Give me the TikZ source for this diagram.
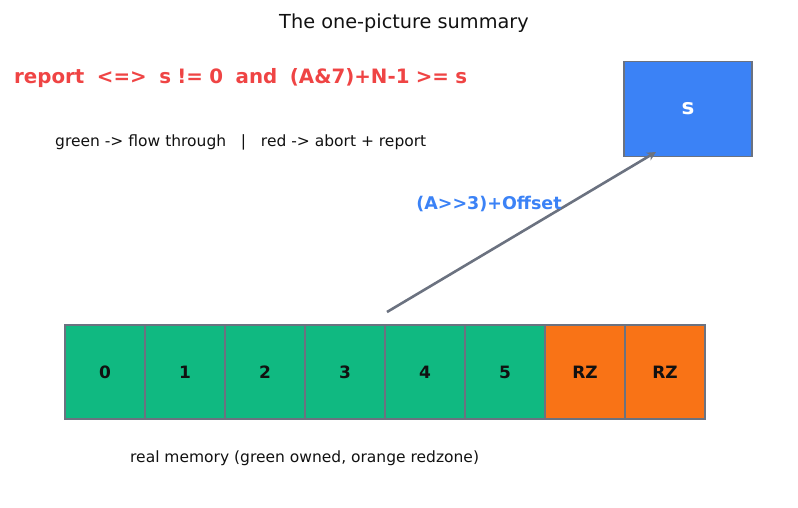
\documentclass[tikz,border=0pt]{standalone}
\usepackage{fontspec}
\setmainfont{DejaVu Sans}
\usetikzlibrary{arrows.meta}
\definecolor{cgreen}{HTML}{10B981}
\definecolor{corange}{HTML}{F97316}
\definecolor{cblue}{HTML}{3B82F6}
\definecolor{cred}{HTML}{EF4444}
\definecolor{cgray}{HTML}{6B7280}
\definecolor{ctext}{HTML}{111111}
\newcommand{\msp}{\hspace{0.318em}}
\begin{document}
\begin{tikzpicture}[x=1pt,y=-1pt,
  cell/.style={draw=cgray,line width=1.3pt,minimum width=80pt,minimum height=94pt,inner sep=0pt,font=\fontsize{17}{19}\selectfont\bfseries,text=ctext},
  gcell/.style={cell,fill=cgreen},
  ocell/.style={cell,fill=corange},
  plain/.style={inner sep=0pt,text=ctext}]
\useasboundingbox (0,0) rectangle (798,507);
\node[plain,font=\fontsize{19.3}{21}\selectfont] (title) at (404,23) {The one-picture summary};
\node[plain,anchor=west,text=cred,font=\fontsize{19.8}{22}\selectfont\bfseries] (cond) at (14,78) {report\msp\msp<=>\msp\msp s\msp!=\msp0\msp\msp and\msp\msp(A\&7)+N-1\msp>=\msp s};
\node[plain,anchor=west,font=\fontsize{15.5}{17}\selectfont] (legend) at (55,142) {green\msp->\msp flow\msp through\msp\msp\msp|\msp\msp\msp red\msp->\msp abort\msp+\msp report};
\node[draw=cgray,line width=1.3pt,fill=cblue,minimum width=128pt,minimum height=95pt,text=white,font=\fontsize{21.5}{23}\selectfont\bfseries] (s) at (688,109) {s};
\foreach \i/\t/\st in {0/0/gcell,1/1/gcell,2/2/gcell,3/3/gcell,4/4/gcell,5/5/gcell,6/RZ/ocell,7/RZ/ocell}{
  \node[\st] (c\i) at (105+80*\i,372) {\t};
}
\coordinate (start) at (387,312);
\draw[cgray,line width=2.6pt,-{Stealth[length=9pt,width=9pt]}] (start) -- (656,152);
\node[plain,text=cblue,font=\fontsize{17.5}{19}\selectfont\bfseries] (lbl) at (489,204) {(A>{}>3)+Offset};
\node[plain,anchor=west,font=\fontsize{15.5}{17}\selectfont] (mem) at (130,458) {real memory (green owned, orange redzone)};
\end{tikzpicture}
\end{document}
